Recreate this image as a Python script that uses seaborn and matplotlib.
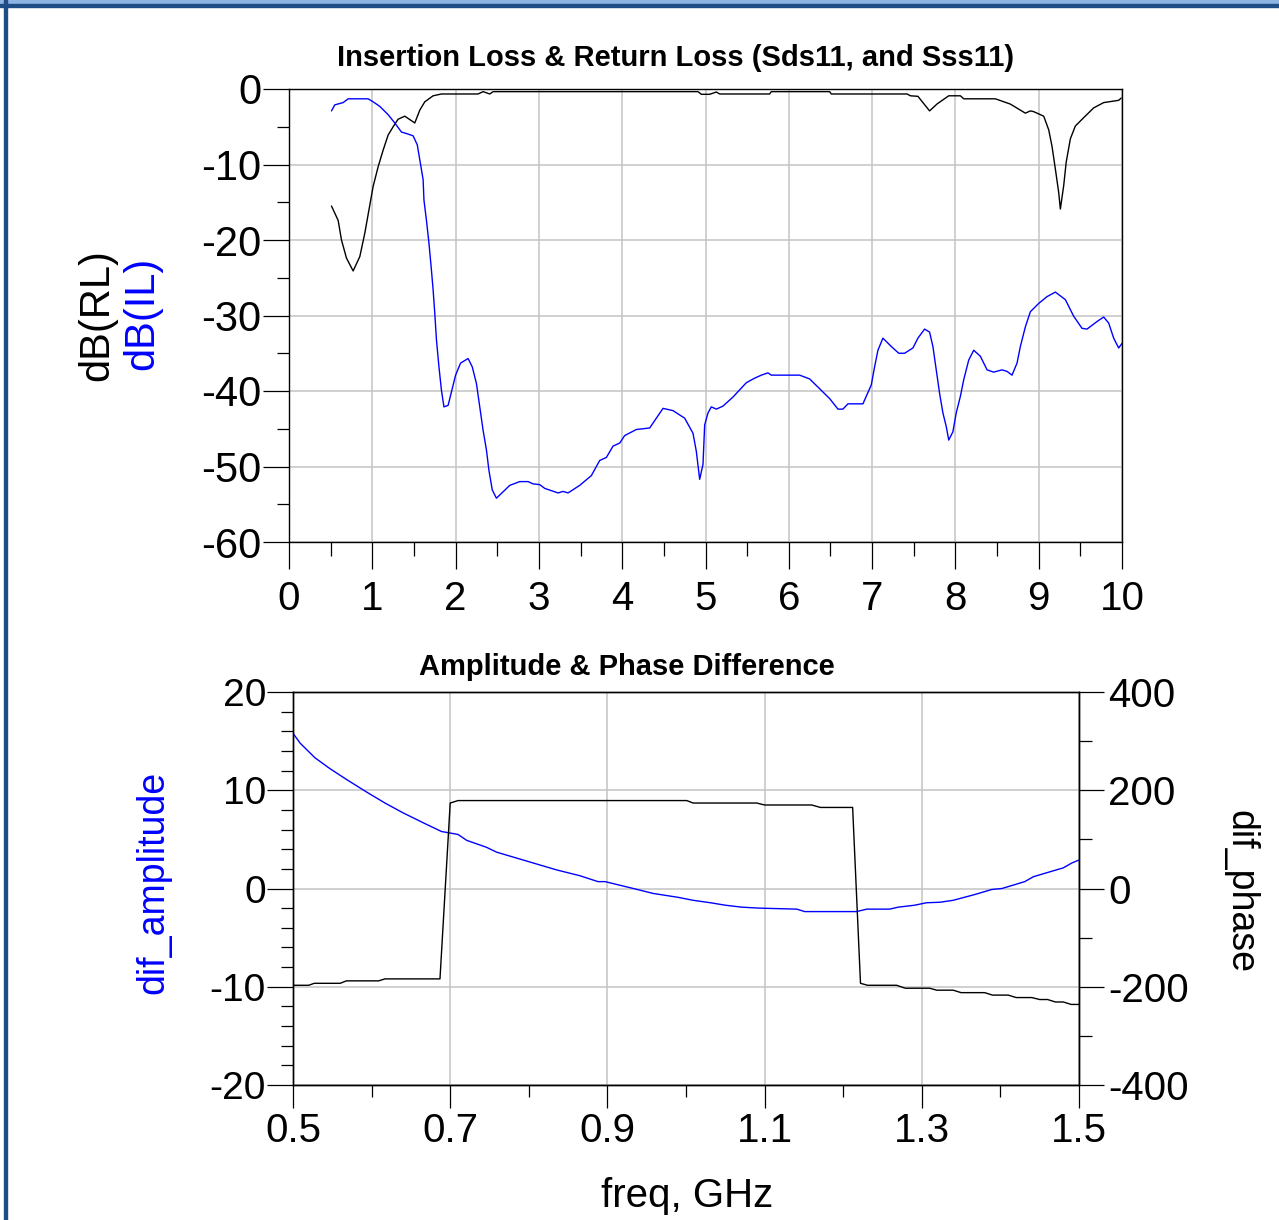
import matplotlib
matplotlib.use("Agg")
import matplotlib.pyplot as plt
from matplotlib.ticker import MultipleLocator
from matplotlib.patches import Rectangle
import numpy as np
import pandas as pd
import seaborn as sns

# --- top panel: return loss (black) and insertion loss (blue), dB vs GHz ---
rl_freq = [0.51, 0.59, 0.63, 0.69, 0.77, 0.85, 0.91, 0.96, 1.01, 1.07,
           1.13, 1.19, 1.25, 1.31, 1.39, 1.51, 1.57, 1.63, 1.73, 1.83,
           2.27, 2.33, 2.41, 2.45, 4.91, 4.95, 5.05, 5.13, 5.17, 5.77,
           5.79, 6.49, 6.51, 7.42, 7.46, 7.55, 7.69, 7.78, 7.92, 8.06,
           8.10, 8.48, 8.66, 8.84, 8.90, 8.94, 9.06, 9.12, 9.16, 9.20,
           9.24, 9.26, 9.30, 9.33, 9.38, 9.44, 9.54, 9.66, 9.78, 9.96,
           9.99]
rl_db = [-15.5, -17.4, -20.0, -22.4, -24.1, -22.2, -19.1, -16.0, -12.9, -10.3,
         -8.1, -6.1, -5.0, -4.0, -3.6, -4.5, -2.8, -1.7, -0.9, -0.66,
         -0.66, -0.35, -0.66, -0.35, -0.35, -0.7, -0.7, -0.4, -0.66, -0.66,
         -0.35, -0.35, -0.66, -0.66, -0.9, -0.97, -2.9, -1.98, -0.9, -0.9,
         -1.3, -1.3, -2.0, -3.2, -2.9, -3.0, -3.6, -5.4, -7.6, -10.6,
         -13.7, -15.9, -12.8, -9.7, -6.6, -4.9, -3.8, -2.5, -1.8, -1.5,
         -1.2]

il_freq = [0.51, 0.55, 0.65, 0.71, 0.95, 1.01, 1.09, 1.19, 1.27, 1.35,
           1.41, 1.49, 1.54, 1.57, 1.61, 1.62, 1.65, 1.68, 1.71, 1.73,
           1.75, 1.77, 1.80, 1.83, 1.86, 1.91, 1.95, 2.00, 2.06, 2.15,
           2.20, 2.25, 2.29, 2.33, 2.37, 2.40, 2.44, 2.49, 2.65, 2.77,
           2.87, 2.93, 3.01, 3.07, 3.15, 3.23, 3.29, 3.35, 3.49, 3.63,
           3.73, 3.81, 3.89, 3.97, 4.03, 4.17, 4.33, 4.41, 4.49, 4.61,
           4.75, 4.85, 4.89, 4.93, 4.97, 4.99, 5.03, 5.07, 5.13, 5.21,
           5.33, 5.49, 5.59, 5.67, 5.75, 5.79, 6.13, 6.25, 6.37, 6.49,
           6.59, 6.65, 6.71, 6.89, 6.99, 7.03, 7.07, 7.13, 7.23, 7.32,
           7.39, 7.49, 7.55, 7.63, 7.69, 7.73, 7.77, 7.81, 7.85, 7.89,
           7.92, 7.97, 8.01, 8.06, 8.10, 8.16, 8.22, 8.30, 8.38, 8.46,
           8.56, 8.62, 8.68, 8.74, 8.78, 8.84, 8.90, 9.00, 9.10, 9.20,
           9.32, 9.42, 9.52, 9.58, 9.70, 9.78, 9.84, 9.90, 9.96, 10.0]
il_db = [-2.9, -2.1, -1.8, -1.3, -1.3, -1.7, -2.3, -3.4, -4.5, -5.7,
         -5.9, -6.2, -7.4, -9.4, -12.0, -14.7, -17.4, -20.4, -24.0, -26.6,
         -29.7, -33.2, -36.8, -39.9, -42.1, -41.9, -40.1, -37.9, -36.3, -35.7,
         -36.8, -39.0, -42.1, -45.2, -47.8, -50.5, -53.1, -54.2, -52.5, -52.0,
         -52.0, -52.3, -52.4, -52.9, -53.2, -53.5, -53.3, -53.5, -52.5, -51.2,
         -49.2, -48.8, -47.3, -46.9, -45.9, -45.1, -44.9, -43.6, -42.3, -42.6,
         -43.6, -45.6, -48.0, -51.7, -49.7, -44.5, -42.9, -42.1, -42.4, -42.0,
         -40.8, -38.9, -38.3, -37.9, -37.6, -37.9, -37.9, -38.4, -39.7, -41.0,
         -42.4, -42.4, -41.7, -41.7, -39.2, -36.8, -34.6, -33.0, -34.1, -35.0,
         -35.0, -34.3, -33.0, -31.8, -32.2, -34.1, -37.2, -40.3, -42.9, -44.7,
         -46.5, -45.4, -42.9, -40.7, -38.5, -35.9, -34.6, -35.4, -37.2, -37.5,
         -37.2, -37.4, -37.9, -36.3, -34.1, -31.5, -29.5, -28.4, -27.5, -26.9,
         -27.9, -30.1, -31.7, -31.8, -30.8, -30.2, -31.0, -33.0, -34.3, -33.7]

# --- bottom panel: amplitude difference (blue, left) and phase difference (black, right) ---
amp_freq = [0.500, 0.509, 0.528, 0.547, 0.568, 0.594, 0.617, 0.640, 0.668, 0.689,
            0.710, 0.721, 0.746, 0.759, 0.797, 0.835, 0.865, 0.888, 0.897, 0.933,
            0.958, 0.990, 1.009, 1.031, 1.050, 1.071, 1.094, 1.141, 1.151, 1.217,
            1.230, 1.259, 1.270, 1.291, 1.306, 1.323, 1.340, 1.368, 1.389, 1.402,
            1.431, 1.442, 1.463, 1.480, 1.491, 1.500]
amp_db = [15.8, 14.8, 13.3, 12.2, 11.1, 9.8, 8.7, 7.7, 6.6, 5.8,
          5.5, 4.9, 4.2, 3.7, 2.8, 1.9, 1.3, 0.7, 0.7, 0.0,
          -0.5, -0.9, -1.2, -1.45, -1.7, -1.9, -2.0, -2.1, -2.35, -2.35,
          -2.1, -2.1, -1.9, -1.7, -1.45, -1.4, -1.2, -0.6, -0.1, 0.0,
          0.7, 1.2, 1.7, 2.1, 2.6, 2.9]

ph_freq = [0.500, 0.520, 0.527, 0.560, 0.568, 0.609, 0.617, 0.687, 0.700, 0.710,
           1.001, 1.009, 1.090, 1.100, 1.160, 1.171, 1.212, 1.222, 1.231, 1.268,
           1.279, 1.310, 1.319, 1.340, 1.350, 1.380, 1.390, 1.410, 1.420, 1.440,
           1.450, 1.460, 1.470, 1.480, 1.490, 1.500]
ph_deg = [-197, -197, -193, -193, -188, -188, -184, -184, 174, 179,
          179, 174, 174, 170, 170, 165, 165, -193, -197, -197,
          -203, -203, -207, -207, -212, -212, -217, -217, -222, -222,
          -226, -226, -231, -231, -236, -236]

sns.set_theme(style="white")
plt.rcParams["font.family"] = ["Liberation Sans", "DejaVu Sans"]
plt.rcParams.update({
    "axes.edgecolor": "black",
    "axes.linewidth": 1.0,
    "axes.unicode_minus": False,
    "text.color": "black",
    "axes.labelcolor": "black",
    "xtick.color": "black",
    "ytick.color": "black",
})

W, H = 1279, 1220
fig = plt.figure(figsize=(W / 100, H / 100), dpi=100)

# frame of the surrounding page
fig.patches.append(Rectangle((0, 1 - 4 / H), 1, 4 / H, transform=fig.transFigure,
                             color="#8db4e2", zorder=0))
fig.patches.append(Rectangle((0, 1 - 7 / H), 1, 3 / H, transform=fig.transFigure,
                             color="#1f4e87", zorder=0))
fig.patches.append(Rectangle((4 / W, 0), 3 / W, 1, transform=fig.transFigure,
                             color="#1f4e87", zorder=0))


def px_axes(left, top, right, bottom):
    return fig.add_axes([left / W, 1 - bottom / H, (right - left) / W, (bottom - top) / H])


grid_kw = dict(color="#c4c4c4", linewidth=1.1)
line_kw = dict(linewidth=1.0, estimator=None, legend=False)

# ---------------- top panel ----------------
ax1 = px_axes(289, 89, 1122, 542)
df_rl = pd.DataFrame({"freq": rl_freq, "dB": rl_db})
df_il = pd.DataFrame({"freq": il_freq, "dB": il_db})
sns.lineplot(data=df_rl, x="freq", y="dB", color="black", ax=ax1, **line_kw)
sns.lineplot(data=df_il, x="freq", y="dB", color="#0000ff", ax=ax1, **line_kw)
ax1.set_xlim(0, 10)
ax1.set_ylim(-60, 0)
ax1.xaxis.set_major_locator(MultipleLocator(1))
ax1.xaxis.set_minor_locator(MultipleLocator(0.5))
ax1.yaxis.set_major_locator(MultipleLocator(10))
ax1.yaxis.set_minor_locator(MultipleLocator(5))
ax1.grid(True, which="major", **grid_kw)
ax1.set_axisbelow(True)
ax1.tick_params(axis="x", which="major", direction="out", length=19.5, width=0.9,
                labelsize=29, pad=8, bottom=True)
ax1.tick_params(axis="x", which="minor", direction="out", length=10, width=0.9, bottom=True)
ax1.tick_params(axis="y", which="major", direction="out", length=19, width=0.9,
                labelsize=30, pad=1, left=True)
ax1.tick_params(axis="y", which="minor", direction="out", length=8.5, width=0.9, left=True)
ax1.set_xlabel("")
ax1.set_ylabel("")

fig.text(676 / W, 1 - 66 / H, "Insertion Loss & Return Loss (Sds11, and Sss11)",
         ha="center", va="baseline", fontsize=21, fontweight="bold")
fig.text(97 / W, 1 - 315 / H, "dB(RL)", rotation=90, ha="center", va="center",
         fontsize=30, color="black")
fig.text(142 / W, 1 - 313 / H, "dB(IL)", rotation=90, ha="center", va="center",
         fontsize=30, color="#0000ff")

# ---------------- bottom panel ----------------
ax2 = px_axes(293, 692, 1079, 1085)
ax3 = ax2.twinx()
df_amp = pd.DataFrame({"freq": amp_freq, "amp": amp_db})
df_ph = pd.DataFrame({"freq": ph_freq, "phase": ph_deg})
sns.lineplot(data=df_amp, x="freq", y="amp", color="#0000ff", ax=ax2, **line_kw)
sns.lineplot(data=df_ph, x="freq", y="phase", color="black", ax=ax3, **line_kw)
ax2.set_xlim(0.5, 1.5)
ax2.set_ylim(-20, 20)
ax3.set_ylim(-400, 400)
ax2.set_xticks([0.5, 0.7, 0.9, 1.1, 1.3, 1.5])
ax2.set_xticklabels(["0.5", "0.7", "0.9", "1.1", "1.3", "1.5"])
ax2.xaxis.set_minor_locator(MultipleLocator(0.1))
ax2.yaxis.set_major_locator(MultipleLocator(10))
ax2.yaxis.set_minor_locator(MultipleLocator(2))
ax3.yaxis.set_major_locator(MultipleLocator(200))
ax3.yaxis.set_minor_locator(MultipleLocator(100))
ax2.grid(True, which="major", **grid_kw)
ax2.set_axisbelow(True)
ax3.grid(False)
ax2.tick_params(axis="x", which="major", direction="out", length=16.5, width=0.9,
                labelsize=29, pad=3, bottom=True)
ax2.tick_params(axis="x", which="minor", direction="out", length=8.5, width=0.9, bottom=True)
ax2.tick_params(axis="y", which="major", direction="out", length=18.5, width=0.9,
                labelsize=28, pad=1, left=True)
ax2.tick_params(axis="y", which="minor", direction="out", length=8.5, width=0.9, left=True)
ax3.tick_params(axis="y", which="major", direction="out", length=18, width=0.9,
                labelsize=29, pad=3, right=True)
ax3.tick_params(axis="y", which="minor", direction="out", length=9, width=0.9, right=True)
for a in (ax2, ax3):
    a.set_xlabel("")
    a.set_ylabel("")

fig.text(627 / W, 1 - 675 / H, "Amplitude & Phase Difference",
         ha="center", va="baseline", fontsize=21, fontweight="bold")
fig.text(153 / W, 1 - 882 / H, "dif_amplitude", rotation=90, ha="center", va="center",
         fontsize=27, color="#0000ff")
fig.text(1240 / W, 1 - 892 / H, "dif_phase", rotation=270, ha="center", va="center",
         fontsize=27, color="black")
fig.text(687 / W, 1 - 1196 / H, "freq, GHz", ha="center", va="center", fontsize=29)

fig.savefig("out.png", dpi=100)
